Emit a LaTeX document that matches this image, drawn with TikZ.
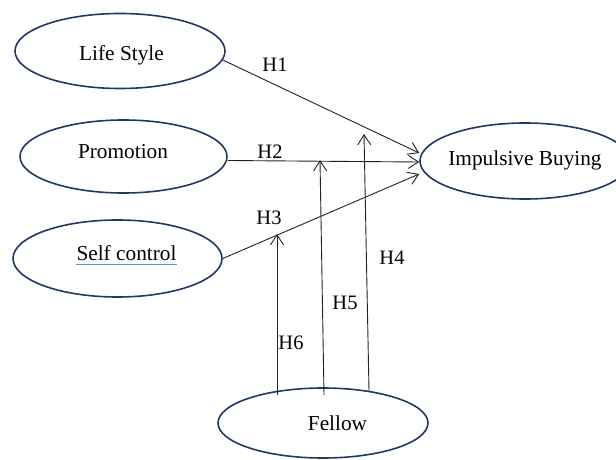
\documentclass[tikz,border=0pt]{standalone}
\usepackage{fontspec}
\setmainfont{Liberation Serif}
\usetikzlibrary{shapes.geometric,arrows.meta}
\definecolor{navy}{HTML}{1F3864}
\definecolor{spell}{HTML}{5B8EE6}
\definecolor{ink}{HTML}{222222}
\begin{document}
\begin{tikzpicture}[x=1pt,y=-1pt,
  var/.style={ellipse,draw=navy,line width=1.6pt,inner sep=0pt,
    font=\fontsize{21.3}{25}\selectfont},
  txt/.style={inner sep=0pt,font=\fontsize{21.3}{25}\selectfont},
  lab/.style={inner sep=0pt,font=\fontsize{20.5}{24}\selectfont},
  link/.style={draw=ink,line width=0.9pt,-{Straight Barb[length=10pt,width=13pt]}}]
\useasboundingbox (0,0) rectangle (616,460);
% constructs
\node[var,minimum width=210,minimum height=75] (LS) at (120,51) {};
\node[txt] (LSt) at (121.5,55) {Life Style};
\node[var,minimum width=207,minimum height=73] (PR) at (123.5,156.5) {};
\node[txt] (PRt) at (123,152) {Promotion};
\node[var,minimum width=209,minimum height=77] (SC) at (117.5,258.5) {};
\node[txt] (SCt) at (126.5,253) {Self control};
\node[var,minimum width=210,minimum height=76] (IB) at (525,161) {};
\node[txt] (IBt) at (525,160) {Impulsive Buying};
\node[var,minimum width=210,minimum height=70] (FE) at (323,423) {};
\node[txt] (FEt) at (337.5,423) {Fellow};
% spell-check underline
\draw[spell,line width=1.5pt] ([yshift=-4pt]SCt.base west) -- ([yshift=-4pt]SCt.base east);
% direct paths
\draw[link] (LS.-5) -- ([yshift=8pt]IB.west);
\draw[link] ([yshift=-4pt]PR.east) -- ([yshift=-1pt]IB.west);
\draw[link] (SC.east) -- ([yshift=-13pt]IB.west);
% moderating paths
\coordinate (b6) at (277,395);
\coordinate (t6) at (277,234);
\coordinate (b5) at (324,395);
\coordinate (t5) at (320,160);
\coordinate (b4) at (369,391);
\coordinate (t4) at (364,134);
\draw[link] (b6) -- (t6);
\draw[link] (b5) -- (t5);
\draw[link] (b4) -- (t4);
% labels
\node[lab] (H1) at (275,65) {H1};
\node[lab] (H2) at (270,152) {H2};
\node[lab] (H3) at (269,218) {H3};
\node[lab] (H4) at (392,258) {H4};
\node[lab] (H5) at (345,303) {H5};
\node[lab] (H6) at (291,343) {H6};
\end{tikzpicture}
\end{document}
